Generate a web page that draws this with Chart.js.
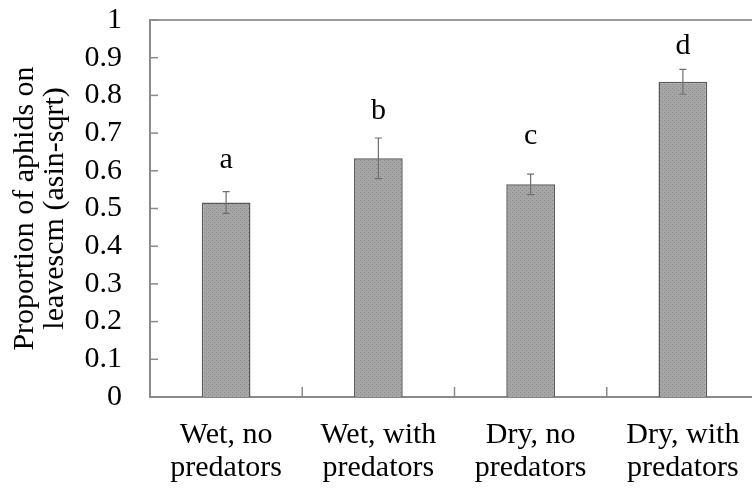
<!DOCTYPE html>
<html>
<head>
<meta charset="utf-8">
<script src="https://cdn.jsdelivr.net/npm/chart.js@4"></script>
<style>
  html, body { margin: 0; padding: 0; background: #fff; overflow: hidden; }
  #wrap { width: 760px; height: 489px; }
</style>
</head>
<body>
<div id="wrap"><canvas id="aphid-canvas"></canvas></div>
<script>
const categories = [["Wet, no", "predators"], ["Wet, with", "predators"], ["Dry, no", "predators"], ["Dry, with", "predators"]];
const means = [0.516, 0.633, 0.564, 0.836];
const errors = [0.029, 0.054, 0.027, 0.033];
const letters = ["a", "b", "c", "d"];
const letterBase = [0.607, 0.738, 0.672, 0.909];

const serif = "'Liberation Serif', 'Times New Roman', serif";
const aphidCanvas = document.querySelector("#aphid-canvas");

// stippled grey fill like the original
function makeStipple() {
  const c = document.createElement("canvas");
  c.width = 4; c.height = 4;
  const ctx = c.getContext("2d");
  ctx.fillStyle = "#a6a6a6";
  ctx.fillRect(0, 0, 4, 4);
  ctx.fillStyle = "#8a8a8a";
  ctx.fillRect(0, 0, 1, 1);
  ctx.fillRect(2, 2, 1, 1);
  return ctx.createPattern(c, "repeat");
}

const extras = {
  id: "extras",
  afterDatasetsDraw(chart) {
    const ctx = chart.ctx;
    const area = chart.chartArea;
    const x = chart.scales.x;
    const y = chart.scales.y;
    ctx.save();
    // top frame line
    ctx.strokeStyle = "#9a9a9a";
    ctx.lineWidth = 2;
    ctx.beginPath();
    ctx.moveTo(area.left, area.top);
    ctx.lineTo(area.right, area.top);
    ctx.stroke();
    // inward y ticks
    ctx.strokeStyle = "#8a8a8a";
    ctx.lineWidth = 1.5;
    y.ticks.forEach((t) => {
      const py = y.getPixelForValue(t.value);
      ctx.beginPath();
      ctx.moveTo(area.left, py);
      ctx.lineTo(area.left + 8, py);
      ctx.stroke();
    });
    // category separators on x axis
    for (let i = 1; i < categories.length; i++) {
      const px = (x.getPixelForValue(i - 1) + x.getPixelForValue(i)) / 2;
      ctx.beginPath();
      ctx.moveTo(px, area.bottom);
      ctx.lineTo(px, area.bottom - 10);
      ctx.stroke();
    }
    // error bars
    ctx.strokeStyle = "#6e6e6e";
    ctx.lineWidth = 1.2;
    means.forEach((m, i) => {
      const px = x.getPixelForValue(i);
      const top = y.getPixelForValue(m + errors[i]);
      const bot = y.getPixelForValue(m - errors[i]);
      ctx.beginPath();
      ctx.moveTo(px, top); ctx.lineTo(px, bot);
      ctx.moveTo(px - 3.5, top); ctx.lineTo(px + 3.5, top);
      ctx.moveTo(px - 3.5, bot); ctx.lineTo(px + 3.5, bot);
      ctx.stroke();
    });
    // significance letters
    ctx.fillStyle = "#000";
    ctx.font = "30px " + serif;
    ctx.textAlign = "center";
    ctx.textBaseline = "alphabetic";
    letters.forEach((l, i) => {
      ctx.fillText(l, x.getPixelForValue(i), y.getPixelForValue(letterBase[i]));
    });
    ctx.restore();
  }
};

new Chart(aphidCanvas, {
  type: "bar",
  data: {
    labels: categories,
    datasets: [
      {
        label: "Proportion",
        data: means,
        backgroundColor: makeStipple(),
        borderColor: "#5a5a5a",
        borderWidth: 1.5,
        categoryPercentage: 1,
        barPercentage: 0.32,
      },
    ],
  },
  options: {
    responsive: true,
    maintainAspectRatio: false,
    animation: false,
    layout: { padding: { top: 20, right: 1 } },
    plugins: { legend: { display: false }, tooltip: { enabled: false } },
    scales: {
      x: {
        grid: { display: false, drawTicks: false },
        border: { display: true, color: "#8a8a8a", width: 2 },
        ticks: {
          color: "#000",
          font: { family: serif, size: 30, lineHeight: 1.1 },
          padding: 22,
          maxRotation: 0,
          autoSkip: false,
        },
        afterFit(scale) {
          scale.height = 92;
          scale.paddingLeft = 0;
          scale.paddingRight = 0;
        },
      },
      y: {
        min: 0,
        max: 1,
        grid: { display: false, drawTicks: false },
        border: { display: true, color: "#8a8a8a", width: 2 },
        ticks: {
          stepSize: 0.1,
          autoSkip: false,
          color: "#000",
          font: { family: serif, size: 30 },
          padding: 28,
          callback: (v) => Math.round(v * 10) / 10,
        },
        title: {
          display: true,
          text: ["Proportion of aphids on", "leavescm (asin-sqrt)"],
          color: "#000",
          font: { family: serif, size: 30, lineHeight: 1.0 },
          padding: { top: 10, bottom: 0 },
        },
        afterFit(scale) {
          scale.width = 150;
          scale.paddingTop = 0;
          scale.paddingBottom = 0;
        },
      },
    },
  },
  plugins: [extras],
});
</script>
</body>
</html>
